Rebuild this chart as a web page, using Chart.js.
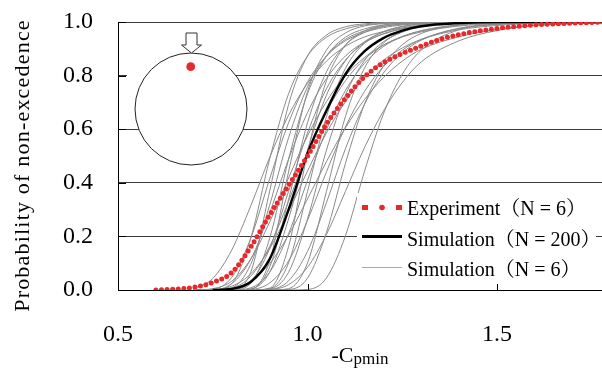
<!DOCTYPE html>
<html><head><meta charset="utf-8">
<script src="https://cdn.jsdelivr.net/npm/chart.js@4.4.0/dist/chart.umd.min.js"></script>
<style>html,body{margin:0;padding:0;background:#fff;overflow:hidden}#wrap{width:602px;height:369px;position:relative}</style>
</head><body><div id="wrap"><canvas id="c" width="602" height="369"></canvas></div>
<script>
// ---- data ----
const xTickValues = [0.5, 1.0, 1.5];
const yTickValues = [0.0, 0.2, 0.4, 0.6, 0.8, 1.0];
const legendLabels = ['Experiment（N = 6）', 'Simulation（N = 200）', 'Simulation（N = 6）'];
const yTitle = 'Probability of non-excedence';

const expX = [0.60,0.65,0.70,0.75,0.80,0.85,0.90,0.95,1.00,1.05,1.10,1.15,1.20,1.25,1.30,1.35,1.40,1.45,1.50,1.55,1.60,1.65,1.70,1.75,1.80];
const expY = [0.000,0.003,0.010,0.028,0.065,0.160,0.280,0.390,0.500,0.620,0.715,0.795,0.848,0.882,0.910,0.935,0.953,0.966,0.976,0.983,0.989,0.993,0.996,0.998,1.000];

const sim200X = [0.75,0.80,0.85,0.90,0.95,1.00,1.05,1.10,1.15,1.20,1.25,1.30,1.40,1.50,1.80];
const sim200Y = [0.000,0.004,0.030,0.115,0.300,0.510,0.670,0.805,0.890,0.940,0.968,0.984,0.996,1.000,1.000];

const simX = [0.70,0.75,0.80,0.85,0.90,0.95,1.00,1.05,1.10,1.15,1.20,1.25,1.30,1.40,1.50,1.60,1.80];
const sim01 = [0.005,0.043,0.149,0.313,0.494,0.652,0.771,0.854,0.909,0.944,0.964,0.978,0.987,0.995,0.998,1,1];
const sim02 = [0,0,0.024,0.192,0.488,0.732,0.873,0.943,0.974,0.989,0.995,0.998,1,1,1,1,1];
const sim03 = [0,0.003,0.047,0.192,0.414,0.624,0.777,0.873,0.930,0.961,0.979,0.989,0.994,0.998,1,1,1];
const sim04 = [0,0,0.001,0.066,0.368,0.692,0.873,0.951,0.982,0.993,0.998,1,1,1,1,1,1];
const sim05 = [0,0,0.008,0.095,0.316,0.568,0.758,0.873,0.935,0.967,0.984,0.992,0.996,1,1,1,1];
const sim06 = [0,0.001,0.024,0.114,0.287,0.488,0.662,0.789,0.873,0.925,0.955,0.974,0.985,0.995,0.998,1,1];
const sim07 = [0,0,0,0.024,0.192,0.488,0.732,0.873,0.943,0.974,0.989,0.995,0.998,1,1,1,1];
const sim08 = [0,0.005,0.033,0.115,0.253,0.418,0.575,0.703,0.800,0.867,0.914,0.944,0.963,0.985,0.994,0.998,1];
const sim09 = [0,0,0,0.002,0.108,0.441,0.740,0.895,0.959,0.985,0.994,0.998,1,1,1,1,1];
const sim10 = [0,0,0.001,0.031,0.154,0.368,0.586,0.751,0.858,0.921,0.956,0.976,0.987,0.996,1,1,1];
const sim11 = [0,0,0,0.003,0.085,0.337,0.624,0.814,0.914,0.961,0.983,0.992,0.997,1,1,1,1];
const sim12 = [0,0,0.007,0.051,0.162,0.331,0.512,0.665,0.781,0.861,0.913,0.946,0.966,0.988,0.996,1,1];
const sim13 = [0,0,0,0.004,0.066,0.265,0.522,0.727,0.855,0.926,0.962,0.982,0.991,0.998,1,1,1];
const sim14 = [0,0.001,0.014,0.060,0.154,0.292,0.444,0.586,0.702,0.791,0.857,0.903,0.935,0.971,0.987,0.995,1];
const sim15 = [0,0,0,0,0.007,0.162,0.512,0.781,0.913,0.966,0.988,0.996,1,1,1,1,1];
const sim16 = [0,0,0,0.008,0.066,0.210,0.409,0.598,0.744,0.845,0.908,0.945,0.968,0.990,0.997,1,1];
const sim17 = [0,0,0,0,0.005,0.101,0.368,0.647,0.827,0.921,0.964,0.984,0.993,0.999,1,1,1];
const sim18 = [0,0.001,0.007,0.033,0.098,0.205,0.340,0.479,0.605,0.710,0.792,0.854,0.898,0.945,0.972,0.988,0.998];
const sim19 = [0,0,0,0,0.004,0.066,0.265,0.522,0.727,0.855,0.926,0.962,0.982,0.996,1,1,1];
const sim20 = [0,0,0,0.002,0.026,0.108,0.260,0.441,0.608,0.740,0.833,0.895,0.935,0.975,0.991,0.997,1];
const sim21 = [0,0,0,0,0,0.005,0.101,0.368,0.647,0.827,0.921,0.964,0.984,0.997,1,1,1];
const sim22 = [0,0,0,0,0.002,0.034,0.144,0.326,0.527,0.692,0.809,0.885,0.932,0.977,0.992,0.998,1];
const sim23 = [0,0,0,0,0,0.002,0.044,0.215,0.472,0.692,0.835,0.915,0.957,0.990,0.998,1,1];
const sim24 = [0,0,0,0,0.002,0.020,0.085,0.207,0.368,0.530,0.667,0.774,0.851,0.930,0.968,0.987,0.998];
const sim25 = [0,0,0,0,0,0,0.002,0.045,0.202,0.441,0.656,0.805,0.895,0.971,0.992,0.998,1];
const simSets = [sim01,sim02,sim03,sim04,sim05,sim06,sim07,sim08,sim09,sim10,sim11,sim12,sim13,sim14,sim15,sim16,sim17,sim18,sim19,sim20,sim21,sim22,sim23,sim24,sim25];

// ---- styles ----
const RED = '#e8292b', GRAY = '#8a8a8a', SERIF = '"Liberation Serif","Times New Roman",serif';
const CJK = '"Liberation Serif","Noto Serif CJK JP","Noto Sans CJK JP",serif';
const pts = (xs, ys) => xs.map((x, i) => ({x, y: ys[i]}));

const datasets = [
  {data: pts(expX, expY), borderColor: RED, borderWidth: 5, borderDash: [0, 5.6], borderCapStyle: 'round',
   pointRadius: 0, cubicInterpolationMode: 'monotone', fill: false},
  {data: pts(sim200X, sim200Y), borderColor: '#000', borderWidth: 2.4, pointRadius: 0,
   cubicInterpolationMode: 'monotone', fill: false}
].concat(simSets.map(s => ({data: pts(simX, s), borderColor: GRAY, borderWidth: 1, pointRadius: 0,
   cubicInterpolationMode: 'monotone', fill: false})));

const deco = {
  id: 'deco',
  afterDatasetsDraw(chart) {
    const ctx = chart.ctx, xs = chart.scales.x, ys = chart.scales.y, a = chart.chartArea;
    ctx.save();
    ctx.strokeStyle = '#000'; ctx.lineWidth = 1;
    yTickValues.forEach(v => { const y = Math.round(ys.getPixelForValue(v)) + 0.5;
      ctx.beginPath(); ctx.moveTo(a.left, y); ctx.lineTo(a.left + 8, y); ctx.stroke(); });
    xTickValues.forEach(v => { const x = Math.round(xs.getPixelForValue(v)) + 0.5;
      ctx.beginPath(); ctx.moveTo(x, a.bottom); ctx.lineTo(x, a.bottom - 6); ctx.stroke(); });
    // inset: cylinder cross-section with pressure tap
    ctx.fillStyle = '#fff';
    ctx.fillRect(a.left + 9, 28, 64, 60);
    ctx.beginPath(); ctx.arc(191, 109, 56, 0, Math.PI * 2); ctx.fill();
    ctx.strokeStyle = '#222'; ctx.lineWidth = 1; ctx.stroke();
    ctx.beginPath();
    ctx.moveTo(186, 33); ctx.lineTo(197, 33); ctx.lineTo(197, 45); ctx.lineTo(201.5, 45);
    ctx.lineTo(191.5, 53); ctx.lineTo(181.5, 45); ctx.lineTo(186, 45); ctx.closePath();
    ctx.fillStyle = '#fff'; ctx.fill(); ctx.strokeStyle = '#333'; ctx.stroke();
    ctx.beginPath(); ctx.arc(190.7, 66.7, 4.4, 0, Math.PI * 2); ctx.fillStyle = RED; ctx.fill();
    // legend
    ctx.fillStyle = '#fff'; ctx.fillRect(357, 193, 239, 91);
    const rows = [207.5, 236.5, 267.5];
    ctx.fillStyle = RED;
    ctx.fillRect(362, rows[0] - 2.5, 6, 5); ctx.fillRect(396, rows[0] - 2.5, 6, 5);
    ctx.beginPath(); ctx.arc(382, rows[0], 2.8, 0, Math.PI * 2); ctx.fill();
    ctx.strokeStyle = '#000'; ctx.lineWidth = 3;
    ctx.beginPath(); ctx.moveTo(362, rows[1]); ctx.lineTo(402, rows[1]); ctx.stroke();
    ctx.strokeStyle = '#aaa'; ctx.lineWidth = 1.2;
    ctx.beginPath(); ctx.moveTo(362, rows[2]); ctx.lineTo(402, rows[2]); ctx.stroke();
    ctx.fillStyle = '#000'; ctx.font = '20px ' + CJK; ctx.textBaseline = 'alphabetic'; ctx.textAlign = 'left';
    ctx.fillText(legendLabels[0], 407, 215);
    ctx.fillText(legendLabels[1], 407, 245.5);
    ctx.fillText(legendLabels[2], 407, 275.5);
    ctx.restore();
  },
  afterDraw(chart) {
    const ctx = chart.ctx, a = chart.chartArea;
    ctx.save();
    ctx.fillStyle = '#000'; ctx.textBaseline = 'alphabetic';
    ctx.font = '22px ' + SERIF; const w1 = ctx.measureText('-C').width;
    ctx.font = '17px ' + SERIF; const w2 = ctx.measureText('pmin').width;
    const sx = (a.left + a.right) / 2 - (w1 + w2) / 2;
    ctx.font = '22px ' + SERIF; ctx.textAlign = 'left'; ctx.fillText('-C', sx, 361.5);
    ctx.font = '17px ' + SERIF; ctx.fillText('pmin', sx + w1, 363.5);
    ctx.translate(29, 165.5); ctx.rotate(-Math.PI / 2);
    ctx.font = '22px ' + SERIF; ctx.textAlign = 'center';
    if ('letterSpacing' in ctx) ctx.letterSpacing = '1.2px';
    ctx.fillText(yTitle, 0, 0);
    ctx.restore();
  }
};

new Chart(document.getElementById('c'), {
  type: 'line',
  data: {datasets},
  options: {
    responsive: false, animation: false, devicePixelRatio: 1,
    layout: {padding: {top: 22, right: 0, bottom: 0, left: 0}},
    plugins: {legend: {display: false}, tooltip: {enabled: false}},
    elements: {line: {tension: 0}},
    scales: {
      x: {type: 'linear', min: 0.5, max: 1.777,
        afterBuildTicks: s => { s.ticks = xTickValues.map(v => ({value: v})); },
        afterFit: s => { s.height = 79; s.paddingLeft = 0; s.paddingRight = 0; },
        grid: {display: false},
        border: {display: true, color: '#000', width: 1},
        ticks: {callback: v => v.toFixed(1), color: '#000', padding: 22, maxRotation: 0,
          font: {family: SERIF, size: 24}}},
      y: {type: 'linear', min: 0, max: 1,
        afterBuildTicks: s => { s.ticks = yTickValues.map(v => ({value: v})); },
        afterFit: s => { s.width = 118; s.paddingTop = 0; s.paddingBottom = 0; },
        grid: {display: true, color: '#3a3a3a', lineWidth: 1, drawTicks: false},
        border: {display: true, color: '#000', width: 1},
        ticks: {callback: v => v.toFixed(1), color: '#000', padding: 25,
          font: {family: SERIF, size: 24}}}
    }
  },
  plugins: [deco]
});
</script></body></html>
